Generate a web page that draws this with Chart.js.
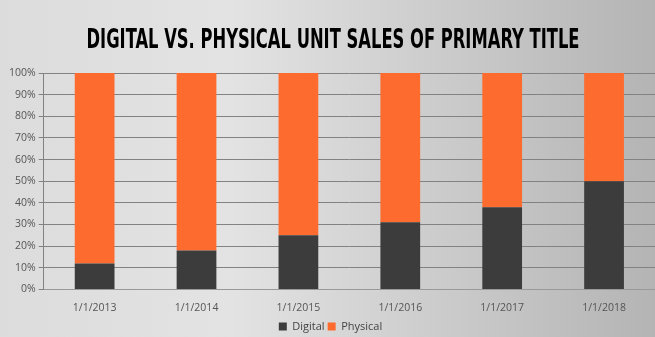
<!DOCTYPE html>
<html>
<head>
<meta charset="utf-8">
<script src="https://cdn.jsdelivr.net/npm/chart.js@4"></script>
<style>
  html, body { margin: 0; padding: 0; }
  body { width: 655px; height: 337px; overflow: hidden; }
  #wrap { width: 655px; height: 337px; }
</style>
</head>
<body>
<div id="wrap"><canvas id="salesChart" width="655" height="337"></canvas></div>
<script>
const years = ['1/1/2013', '1/1/2014', '1/1/2015', '1/1/2016', '1/1/2017', '1/1/2018'];
const digital = [12, 18, 25, 31, 38, 50];
const physical = [88, 82, 75, 69, 62, 50];
const yTicks = [0, 10, 20, 30, 40, 50, 60, 70, 80, 90, 100];
const chartTitle = 'DIGITAL VS. PHYSICAL UNIT SALES OF PRIMARY TITLE';

// gray gradient behind everything, like the slide
const bgPlugin = {
    id: 'bg',
    beforeDraw(chart) {
        const ctx = chart.ctx;
        const w = chart.width, h = chart.height;
        const g = ctx.createLinearGradient(0, 0, w, 0);
        g.addColorStop(0, '#dcdcdc');
        g.addColorStop(0.35, '#e3e3e3');
        g.addColorStop(1, '#b4b4b4');
        ctx.save();
        ctx.fillStyle = g;
        ctx.fillRect(0, 0, w, h);
        ctx.restore();
    }
};

// condensed heavy title - squeeze the font horizontally
const titlePlugin = {
    id: 'squeezedTitle',
    afterDraw(chart) {
        const ctx = chart.ctx;
        ctx.save();
        ctx.font = 'bold 27px "DejaVu Sans Condensed"';
        ctx.fillStyle = '#000';
        ctx.textAlign = 'center';
        ctx.textBaseline = 'middle';
        const targetW = 493;
        const w = ctx.measureText(chartTitle).width;
        const sx = targetW / w;
        ctx.translate(333, 41);
        ctx.scale(sx, 1);
        ctx.fillText(chartTitle, 0, 0);
        ctx.restore();
    }
};

const ctx = document.getElementById('salesChart').getContext('2d');
new Chart(ctx, {
    type: 'bar',
    data: {
        labels: years,
        datasets: [
            { label: 'Digital', data: digital, backgroundColor: '#3c3c3c', barPercentage: 0.78, categoryPercentage: 0.5 },
            { label: 'Physical', data: physical, backgroundColor: '#fe6b2e', barPercentage: 0.78, categoryPercentage: 0.5 }
        ]
    },
    options: {
        responsive: false,
        animation: false,
        layout: { padding: { left: 6, right: 0, top: 73, bottom: -5 } },
        plugins: {
            title: { display: false },
            legend: {
                position: 'bottom',
                labels: {
                    boxWidth: 8, boxHeight: 8, color: '#444',
                    font: { family: 'Open Sans', size: 11 },
                    padding: 3
                }
            },
            tooltip: { enabled: false }
        },
        scales: {
            x: {
                stacked: true,
                grid: { display: false },
                border: { color: '#999' },
                ticks: { color: '#555', font: { family: 'Open Sans', size: 10.5 }, padding: 4 }
            },
            y: {
                stacked: true,
                min: 0, max: 100,
                afterBuildTicks(axis) { axis.ticks = yTicks.map(v => ({ value: v })); },
                grid: { color: '#828282', lineWidth: 1, tickLength: 5 },
                border: { color: '#828282' },
                ticks: {
                    color: '#555',
                    font: { family: 'Open Sans', size: 10.5 },
                    padding: 3,
                    callback: v => v + '%'
                }
            }
        }
    },
    plugins: [bgPlugin, titlePlugin]
});
</script>
</body>
</html>
